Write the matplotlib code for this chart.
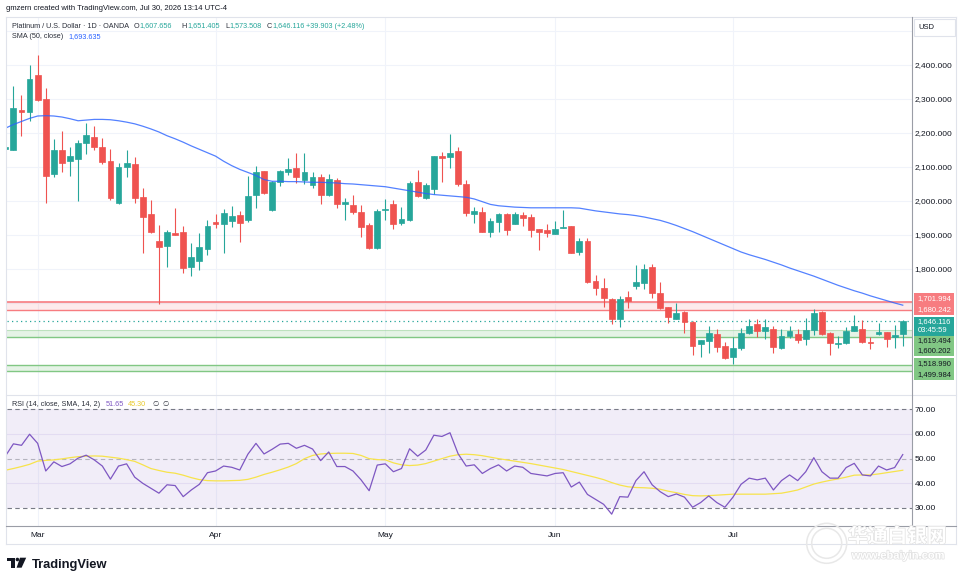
import matplotlib
matplotlib.use('Agg')
import matplotlib.pyplot as plt
from matplotlib.lines import Line2D
from matplotlib.patches import Rectangle, Ellipse, Polygon
import matplotlib.patheffects as pe
import numpy as np

W, H = 964, 582
plt.rcParams['font.family'] = ['Liberation Sans', 'DejaVu Sans']

# ---------------- data ----------------
opens = [2153, 2150, 2267.6, 2262.7, 2370.6, 2299, 2079.4, 2150, 2118.5, 2123.5,
         2169.7, 2189.1, 2158, 2118.5, 1995, 2099, 2108, 2010.9, 1961.8, 1883.3,
         1867.7, 1906.8, 1908, 1806.8, 1824.4, 1858.9, 1939.1, 1932.4, 1942, 1959.8,
         1944.1, 2017.7, 2088.3, 1973.6, 2056.8, 2084.4, 2096.2, 2061.8, 2047, 2071.5,
         2017.7, 2061.8, 1991.2, 1988.3, 1967.8, 1929.4, 1860.8, 1973.6, 1990.3, 1934.4,
         1944.1, 2055, 2008, 2034.4, 2133.3, 2130.3, 2147, 2049, 1961.8, 1967.8,
         1909.7, 1939.1, 1960.9, 1932.4, 1958.9, 1954, 1917.7, 1914.7, 1903, 1920.6,
         1926.5, 1849.2, 1883.3, 1764.7, 1745, 1711.8, 1653, 1716.8, 1750.9, 1758,
         1805, 1730.3, 1687.4, 1653, 1674.4, 1645, 1578.6, 1589.2, 1608.9, 1573.6,
         1542.1, 1566.8, 1612.7, 1638.3, 1618.6, 1622.7, 1566.8, 1603, 1608.9, 1594.2,
         1620.6, 1674.4, 1612.7, 1578.6, 1583.3, 1618.6, 1622.7, 1586.2, 1608.9, 1615.7,
         1599.2, 1607.656]
highs = [2161, 2339, 2311.8, 2400, 2429, 2331.5, 2181.5, 2205.9, 2158, 2179.4,
         2230.3, 2220.6, 2186.2, 2153, 2112.7, 2150, 2130, 2039, 2003, 1929.4,
         1914.7, 1980.3, 1926.5, 1875.6, 1905, 1944, 1961.8, 1975.6, 1985.3, 1970.6,
         2073.6, 2103, 2089, 2060, 2090, 2125.6, 2140, 2140, 2086.2, 2078.5,
         2078.5, 2066.8, 2009.7, 2017.7, 1988.3, 1934.4, 1976.5, 2005.9, 2002, 1983.3,
         2058.8, 2091.2, 2052, 2133, 2143.2, 2196, 2159.7, 2061.8, 1983.3, 1983,
         1949, 1964, 1964, 1968.6, 1966.8, 1961.8, 1918, 1931.5, 1941.2, 1973.6,
         1927, 1892.1, 1892, 1782.4, 1772.7, 1715.6, 1721.5, 1735.3, 1811.8, 1814.7,
         1814.7, 1762.7, 1689, 1699, 1675, 1646, 1592, 1632.4, 1622.6, 1586.2,
         1599, 1625.6, 1652, 1652, 1652, 1632.4, 1622.6, 1632.4, 1622.6, 1655,
         1681.5, 1675, 1614, 1602.9, 1630.4, 1664.7, 1650, 1601, 1640, 1616,
         1635.3, 1651.405]
lows = [2151, 2149, 2191.2, 2236, 2294, 1995, 2071.5, 2086.2, 2073.5, 2000.9,
        2138.2, 2150, 2108, 2003, 1990, 2069.7, 1993, 1848, 1905, 1697,
        1806.8, 1899, 1789, 1779.5, 1797, 1841.2, 1919.7, 1848, 1924.4, 1880.3,
        1939, 1980.3, 2020.6, 1971, 2044, 2076.5, 2053.8, 2049, 2039, 1992,
        2014.7, 1980.3, 1944, 1961, 1895, 1860, 1860, 1944, 1917.7, 1929.4,
        1941, 2012.7, 2006, 2019.7, 2055, 2096.2, 2044, 1957, 1936.2, 1909,
        1893.3, 1909.7, 1900, 1932, 1927.4, 1895, 1855.9, 1893.3, 1902, 1920,
        1846, 1841.2, 1758, 1723.5, 1689, 1637.4, 1630.3, 1684.4, 1741.2, 1740.3,
        1713.9, 1681.5, 1640, 1652, 1612.7, 1547, 1542, 1553.9, 1556.8, 1534.5,
        1520.6, 1561.8, 1608.9, 1600.9, 1593, 1553.9, 1563.9, 1596, 1581.5, 1576.5,
        1605.9, 1606, 1547, 1568.6, 1579.5, 1617, 1581.5, 1563.9, 1606, 1571.5,
        1568.6, 1573.508]
closes = [2159, 2272.6, 2262.7, 2358.8, 2297, 2073.6, 2150, 2110.9, 2132.4, 2169.7,
          2194.1, 2159.7, 2115.6, 2008, 2099, 2110.9, 2008, 1954, 1909.7, 1863.8,
          1909.7, 1900, 1802, 1834.4, 1863.8, 1926.5, 1931.5, 1965.6, 1955.9, 1936.2,
          2015.6, 2084.4, 2024.4, 2057, 2088.3, 2093.4, 2069.7, 2086.2, 2071.5, 2017.7,
          2063.8, 1991.2, 1996.2, 1967.8, 1924.4, 1860.8, 1970.6, 1976.5, 1932.4, 1947,
          2052.1, 2015.6, 2047, 2132.4, 2125.6, 2140, 2049, 1964.8, 1970.6, 1909.7,
          1941.2, 1961.8, 1914.7, 1960.9, 1950.9, 1914.7, 1909.7, 1905, 1917.7, 1922.6,
          1848, 1882.4, 1762.7, 1745, 1713.9, 1653, 1711.8, 1706.8, 1760.9, 1800,
          1728.6, 1686.2, 1658, 1669.7, 1645, 1573.6, 1591.2, 1612.7, 1571.5, 1537.4,
          1566.8, 1612.7, 1632.4, 1618.6, 1628.6, 1571.5, 1603, 1617.7, 1591.2, 1620.6,
          1669.7, 1608.9, 1583.3, 1583.3, 1618.6, 1632.4, 1586.2, 1581.5, 1615.7, 1594.2,
          1605.9, 1646.116]
sma50 = [2214, 2225, 2234, 2243, 2250, 2251, 2250, 2247, 2242, 2236,
         2238, 2240, 2240, 2239, 2236, 2232, 2227, 2220, 2212, 2203,
         2192, 2183, 2173, 2162, 2152, 2142, 2132, 2117, 2104, 2093,
         2084, 2075, 2063, 2058, 2058, 2057, 2057, 2056, 2055, 2055,
         2054, 2053, 2051, 2050, 2048, 2046, 2044, 2042, 2038, 2034,
         2030, 2026, 2022, 2019, 2017, 2015, 2013, 2011, 2006, 1998,
         1990, 1986, 1984, 1982, 1981, 1980, 1980, 1980, 1980, 1980,
         1980, 1979, 1975, 1971, 1968, 1965, 1962, 1960, 1957, 1953,
         1948, 1943, 1936, 1928, 1919, 1910, 1900, 1890, 1880, 1870,
         1860, 1850, 1842, 1835, 1828, 1820, 1812, 1803, 1795, 1787,
         1779, 1770, 1761, 1752, 1744, 1736, 1729, 1721, 1714, 1707,
         1700, 1693.635]
rsi = [51.0, 56.0, 55.4, 59.9, 56.2, 45.0, 48.7, 46.8, 47.9, 50.2,
       51.4, 49.5, 47.0, 41.7, 47.0, 47.9, 42.5, 40.0, 38.0, 36.0,
       39.4, 39.1, 34.6, 37.3, 39.6, 44.3, 45.0, 47.0, 46.5, 45.4,
       51.8, 56.2, 51.9, 53.8, 55.9, 56.2, 54.2, 55.4, 53.9, 49.2,
       52.7, 46.8, 46.8, 45.0, 41.4, 37.0, 47.4, 47.9, 44.7, 46.0,
       54.0, 51.0, 53.5, 59.5, 59.0, 60.5, 52.0, 47.0, 47.5, 44.0,
       46.0, 47.5, 45.0, 47.0, 46.5, 44.0, 43.5, 43.0, 44.0, 44.3,
       38.5, 40.5, 35.5, 33.5, 31.5, 27.5, 34.6, 34.4, 41.1, 44.7,
       39.4, 36.6, 34.6, 35.7, 34.4, 30.3, 32.2, 34.9, 32.2, 30.3,
       34.4, 39.6, 42.1, 41.4, 42.1, 37.3, 41.1, 43.4, 41.1, 44.7,
       50.4, 44.7, 42.1, 42.1, 46.4, 48.1, 43.4, 43.0, 47.0, 45.4,
       46.4, 51.65]
rsi_ma = [45.3, 46.0, 46.8, 47.7, 49.0, 49.3, 49.5, 49.9, 50.4, 50.8,
          51.0, 51.1, 51.0, 50.6, 50.2, 49.6, 48.9, 47.5, 46.0, 45.2,
          44.5, 44.1, 43.3, 42.3, 41.5, 41.1, 41.0, 41.0, 41.1, 41.2,
          41.6, 42.5, 43.6, 44.5, 45.5, 46.6, 48.0, 50.0, 51.3, 51.9,
          52.1, 52.2, 52.2, 52.1, 51.3, 50.0, 49.6, 49.5, 48.3, 47.5,
          47.2, 47.4, 48.0, 49.0, 50.0, 51.0, 51.6, 51.8, 51.6, 51.2,
          50.6, 50.0, 49.5, 49.0, 48.5, 48.0, 47.4, 46.8, 46.2, 45.6,
          44.8, 44.0, 43.2, 42.4, 41.5, 40.3, 39.3, 38.6, 38.3, 38.2,
          38.0, 37.6, 36.8, 36.2, 35.5, 35.0, 34.9, 35.0, 35.2, 35.4,
          35.6, 35.6, 35.6, 35.6, 35.6, 35.8, 36.0, 36.6, 37.3, 38.5,
          39.7, 40.5, 41.2, 41.8, 42.5, 43.3, 43.4, 43.4, 43.8, 44.3,
          44.8, 45.3]
month_labels = ['Mar', 'Apr', 'May', 'Jun', 'Jul']
month_index = [4, 26, 47, 68, 90]
price_ticks = [1800, 1900, 2000, 2100, 2200, 2300, 2400]
grid_prices = [1500, 1600, 1700, 1800, 1900, 2000, 2100, 2200, 2300, 2400, 2500]
rsi_ticks = [30, 40, 50, 60, 70]
resistance = (1680.242, 1701.994)
support1 = (1600.202, 1619.494)
support2 = (1499.984, 1518.990)
last_price = 1646.116
countdown = '03:45:59'
header = 'gmzern created with TradingView.com, Jul 30, 2026 13:14 UTC-4'
legend_title = 'Platinum / U.S. Dollar \u00b7 1D \u00b7 OANDA'
ohlc_text = [('O', '1,607.656'), ('H', '1,651.405'), ('L', '1,573.508'), ('C', '1,646.116')]
change_text = '+39.903 (+2.48%)'
sma_legend = ('SMA (50, close)', '1,693.635')
rsi_legend = ('RSI (14, close, SMA, 14, 2)', '51.65', '45.30')

# ---------------- styling ----------------
UP = '#26a69a'
DN = '#ef5350'
RED_TAG = '#f77c80'
GREEN_TAG = '#81c784'
TXT = '#131722'
GRID = '#f0f3fa'
FRAME = '#e0e3eb'
AXLINE = '#9a9da6'
RSI_C = '#7e57c2'
RSI_MA_C = '#f7e34b'

fig = plt.figure(figsize=(W / 100, H / 100), dpi=100, facecolor='white')


def rect_px(x0, y0, x1, y1):
    return [x0 / W, 1 - y1 / H, (x1 - x0) / W, (y1 - y0) / H]


def fx(x):
    return x / W


def fy(y):
    return 1 - y / H


def fline(x0, y0, x1, y1, **kw):
    fig.add_artist(Line2D([fx(x0), fx(x1)], [fy(y0), fy(y1)], transform=fig.transFigure, **kw))


ax = fig.add_axes(rect_px(6.7, 17, 912.3, 395))
axr = fig.add_axes(rect_px(6.7, 395, 912.3, 526), sharex=ax)

o = np.array(opens); h = np.array(highs); l = np.array(lows); c = np.array(closes)
x = np.arange(len(o))
cols = np.where(c >= o, UP, DN)

# main pane
for gp in grid_prices:
    ax.axhline(gp, color=GRID, lw=0.8, zorder=0)
for mi in month_index:
    ax.axvline(mi, color=GRID, lw=0.8, zorder=0)
    axr.axvline(mi, color=GRID, lw=0.8, zorder=0)

ax.axhspan(resistance[0], resistance[1], color=RED_TAG, alpha=0.15, lw=0, zorder=1)
ax.axhline(resistance[1], color=RED_TAG, lw=1.2, zorder=1.5)
ax.axhline(resistance[0], color=RED_TAG, lw=1.0, zorder=1.5)
ax.axhspan(support1[0], support1[1], color=GREEN_TAG, alpha=0.2, lw=0, zorder=1)
ax.axhline(support1[1], color=GREEN_TAG, lw=0.8, alpha=0.4, zorder=1.5)
ax.axhline(support1[0], color=GREEN_TAG, lw=1.0, zorder=1.5)
ax.axhspan(support2[0], support2[1], color=GREEN_TAG, alpha=0.2, lw=0, zorder=1)
ax.axhline(support2[1], color=GREEN_TAG, lw=1.0, zorder=1.5)
ax.axhline(support2[0], color=GREEN_TAG, lw=1.0, zorder=1.5)
ax.axhline(last_price, color=UP, lw=0.9, ls=(0, (1, 2.6)), zorder=2)

ax.vlines(x, l, h, colors=cols, lw=0.8, zorder=3)
ax.bar(x, np.abs(c - o), bottom=np.minimum(o, c), width=0.72, color=cols,
       edgecolor=cols, linewidth=0.5, zorder=4)
ax.plot(x, sma50, color='#2962ff', lw=0.9, alpha=0.8, zorder=5)

ax.set_xlim(0.17, 112.18)
ax.set_ylim(1429.4, 2541.2)
ax.yaxis.tick_right()
ax.set_yticks(price_ticks)
ax.set_yticklabels(['{:,.3f}'.format(p) for p in price_ticks])
ax.tick_params(axis='y', length=0, pad=1.8, labelsize=6, labelcolor=TXT)
ax.tick_params(axis='x', bottom=False, labelbottom=False)
for s in ax.spines.values():
    s.set_visible(False)

# RSI pane
axr.axhspan(30, 70, color=RSI_C, alpha=0.1, lw=0, zorder=0)
axr.axhline(60, color='#e3dcf2', lw=0.8, zorder=0.5)
axr.axhline(40, color='#e3dcf2', lw=0.8, zorder=0.5)
axr.axhline(70, color='#787b86', lw=0.8, ls=(0, (4, 3)), zorder=1)
axr.axhline(50, color='#787b86', lw=0.8, ls=(0, (4, 3)), alpha=0.5, zorder=1)
axr.axhline(30, color='#787b86', lw=0.8, ls=(0, (4, 3)), zorder=1)
axr.plot(x, rsi_ma, color=RSI_MA_C, lw=0.9, zorder=2)
axr.plot(x, rsi, color=RSI_C, lw=0.9, zorder=3)
axr.set_ylim(22.7, 75.8)
axr.yaxis.tick_right()
axr.set_yticks(rsi_ticks)
axr.set_yticklabels(['{:.2f}'.format(v) for v in rsi_ticks])
axr.tick_params(axis='y', length=0, pad=1.8, labelsize=6, labelcolor=TXT)
axr.set_xticks(month_index)
axr.set_xticklabels(month_labels)
axr.tick_params(axis='x', length=0, pad=4.6, labelsize=6, labelcolor=TXT)
for s in axr.spines.values():
    s.set_visible(False)

# frame lines
fline(6, 17, 956, 17, color=FRAME, lw=0.8)
fline(6, 17, 6, 543.5, color=FRAME, lw=0.8)
fline(956, 17, 956, 543.5, color=FRAME, lw=0.8)
fline(6, 543.5, 956, 543.5, color=FRAME, lw=0.8)
fline(6, 395, 956, 395, color=FRAME, lw=0.8)
fline(6, 526, 956, 526, color=AXLINE, lw=0.8)
fline(912.3, 17, 912.3, 526, color=AXLINE, lw=0.8)

# USD box
fig.add_artist(Rectangle((fx(914.3), fy(36)), (955 - 914.3) / W, (36 - 19.3) / H,
                         transform=fig.transFigure, facecolor='white', edgecolor=FRAME, lw=0.8))
fig.text(fx(918), fy(27.8), 'USD', fontsize=5.5, color=TXT, va='center', ha='left')

# price tags on the axis
fig.canvas.draw()
renderer = fig.canvas.get_renderer()


def price_to_py(p):
    return H - ax.transData.transform((0, p))[1]


fmt = '{:,.3f}'.format
tag_specs = [
    (resistance[1], fmt(resistance[1]), RED_TAG, 'white', -4.0),
    (resistance[0], fmt(resistance[0]), RED_TAG, 'white', -0.4),
    (last_price, fmt(last_price), UP, 'white', 0.7),
    (last_price, countdown, UP, 'white', 9.0),
    (support1[1], fmt(support1[1]), GREEN_TAG, TXT, 10.6),
    (support1[0], fmt(support1[0]), GREEN_TAG, TXT, 13.8),
    (support2[1], fmt(support2[1]), GREEN_TAG, TXT, -1.0),
    (support2[0], fmt(support2[0]), GREEN_TAG, TXT, 3.3),
]
for price, label, bg, fg, dy in tag_specs:
    yc = price_to_py(price) + dy
    fig.add_artist(Rectangle((fx(914.3), fy(yc + 5.3)), (954 - 914.3) / W, 10.6 / H,
                             transform=fig.transFigure, facecolor=bg, edgecolor='none', zorder=5))
    fig.text(fx(917.3), fy(yc), label, fontsize=5.5, color=fg, va='center', ha='left', zorder=6)


# legends
def text_width(s, size):
    t = fig.text(0, 0, s, fontsize=size)
    w = t.get_window_extent(renderer).width
    t.remove()
    return w


def put(xp, yp, s, color, size, **kw):
    t = fig.text(fx(xp), fy(yp), s, color=color, fontsize=size, va='center', ha='left', **kw)
    return xp + t.get_window_extent(renderer).width


fig.text(fx(6), fy(8.7), header, fontsize=5.5, color=TXT, va='center', ha='left')

LS = 5.8 * 116.0 / text_width(legend_title, 5.8)
put(11.7, 26, legend_title, '#2a2e39', LS)
for xs, (k, v) in zip([133.3, 181.7, 225, 266.7], ohlc_text):
    xe = put(xs, 26, k, '#2a2e39', LS)
    put(xe, 26, v, UP, LS)
put(306, 26, change_text, UP, LS)
put(11.7, 36.7, sma_legend[0], '#2a2e39', LS)
put(68.3, 36.7, sma_legend[1], '#2962ff', LS)

put(11.7, 405, rsi_legend[0], '#2a2e39', LS)
put(106, 405, rsi_legend[1], RSI_C, LS)
put(127.7, 405, rsi_legend[2], '#e8c92a', LS)
put(152.5, 405, '\u2205', '#2a2e39', LS)
put(162, 405, '\u2205', '#2a2e39', LS)


# TradingView logo
def poly(pts, color):
    fig.add_artist(Polygon([(fx(a), fy(b)) for a, b in pts], closed=True,
                           transform=fig.transFigure, facecolor=color, edgecolor='none'))


poly([(7.3, 557.7), (15.3, 557.7), (15.3, 567.7), (11.3, 567.7), (11.3, 561.3), (7.3, 561.3)], '#131722')
fig.add_artist(Ellipse((fx(17.4), fy(559.5)), 3.6 / W, 3.6 / H, transform=fig.transFigure,
                       facecolor='#131722', edgecolor='none'))
poly([(20.0, 557.7), (26.2, 557.7), (21.6, 567.7), (16.6, 567.7)], '#131722')
fig.text(fx(31.5), fy(567.7), 'TradingView', fontsize=9.3, fontweight='bold', color='#131722',
         va='baseline', ha='left')

# faint watermark
wm = [pe.withStroke(linewidth=1.1, foreground='#e2e2e2')]
for r in (20, 15):
    fig.add_artist(Ellipse((fx(826.7), fy(543.3)), 2 * r / W, 2 * r / H, transform=fig.transFigure,
                           facecolor='none', edgecolor='#e8e8e8', lw=1.1, zorder=10))
fig.text(fx(848), fy(536.7), '华通白银网', fontsize=14.2, fontweight='bold',
         family=['Noto Sans CJK SC', 'DejaVu Sans'], color='white', va='center', ha='left',
         path_effects=wm, zorder=10)
fig.text(fx(851.7), fy(555.7), 'www.ebaiyin.com', fontsize=8.0, fontweight='bold', color='white',
         va='center', ha='left', path_effects=wm, zorder=10)

fig.savefig('out.png', dpi=100, facecolor='white')
